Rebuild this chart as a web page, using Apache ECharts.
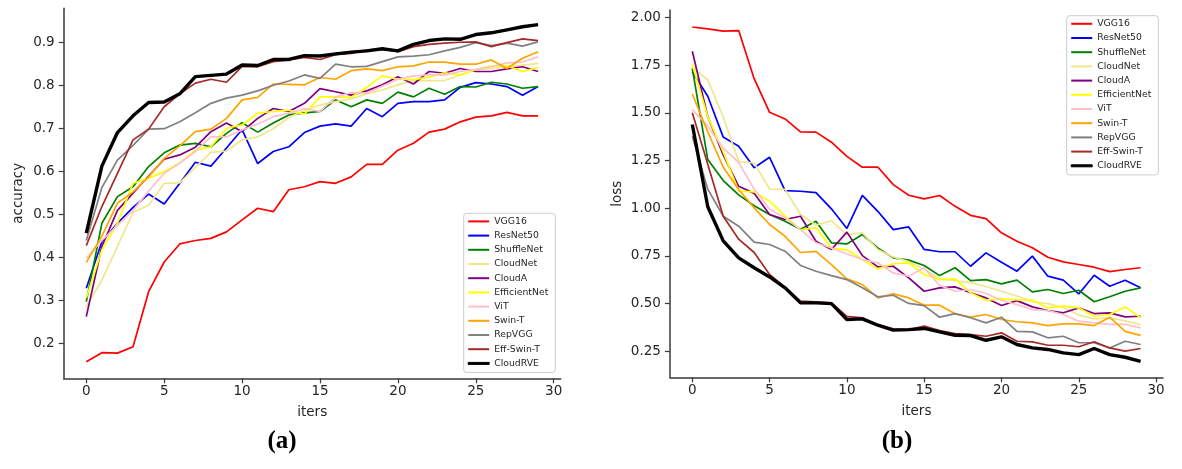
<!DOCTYPE html>
<html>
<head>
<meta charset="utf-8">
<script src="https://cdn.jsdelivr.net/npm/echarts@6/dist/echarts.min.js"></script>
<style>
html,body{margin:0;padding:0;background:#fff;}
#chart{width:1182px;height:469px;}
</style>
</head>
<body>
<div id="chart"></div>
<script>
const iters = [0,1,2,3,4,5,6,7,8,9,10,11,12,13,14,15,16,17,18,19,20,21,22,23,24,25,26,27,28,29];
const names = ['VGG16','ResNet50','ShuffleNet','CloudNet','CloudA','EfficientNet','ViT','Swin-T','RepVGG','Eff-Swin-T','CloudRVE'];
const xTicks = [0,5,10,15,20,25,30];
const accTicks = [0.2,0.3,0.4,0.5,0.6,0.7,0.8,0.9];
const lossTicks = [0.25,0.5,0.75,1.0,1.25,1.5,1.75,2.0];

const accVGG16 = [0.158,0.179,0.178,0.193,0.321,0.390,0.432,0.440,0.445,0.460,0.488,0.515,0.507,0.558,0.565,0.577,0.573,0.588,0.617,0.617,0.650,0.666,0.692,0.699,0.716,0.727,0.730,0.738,0.730,0.730];
const accResNet50 = [0.329,0.437,0.480,0.517,0.548,0.525,0.573,0.622,0.613,0.655,0.698,0.619,0.647,0.658,0.691,0.706,0.711,0.706,0.747,0.728,0.759,0.763,0.763,0.767,0.796,0.807,0.804,0.798,0.778,0.798];
const accShuffleNet = [0.298,0.480,0.542,0.565,0.612,0.644,0.662,0.666,0.658,0.689,0.714,0.692,0.713,0.732,0.737,0.740,0.767,0.751,0.767,0.759,0.785,0.774,0.794,0.780,0.798,0.797,0.808,0.804,0.794,0.798];
const accCloudNet = [0.286,0.348,0.426,0.505,0.522,0.573,0.574,0.610,0.645,0.648,0.674,0.681,0.700,0.726,0.743,0.755,0.763,0.769,0.781,0.790,0.802,0.812,0.812,0.812,0.825,0.837,0.840,0.844,0.848,0.852];
const accCloudA = [0.263,0.426,0.510,0.550,0.590,0.629,0.639,0.657,0.693,0.713,0.693,0.724,0.747,0.740,0.759,0.793,0.786,0.778,0.788,0.802,0.821,0.804,0.833,0.829,0.840,0.833,0.833,0.839,0.844,0.833];
const accEfficientNet = [0.306,0.418,0.480,0.573,0.585,0.600,0.620,0.650,0.658,0.701,0.709,0.736,0.740,0.743,0.734,0.774,0.774,0.773,0.796,0.823,0.815,0.814,0.820,0.830,0.825,0.837,0.846,0.846,0.833,0.842];
const accViT = [0.399,0.440,0.475,0.510,0.555,0.596,0.620,0.647,0.681,0.681,0.697,0.711,0.728,0.736,0.747,0.740,0.774,0.784,0.783,0.799,0.815,0.823,0.825,0.825,0.833,0.838,0.844,0.853,0.855,0.867];
const accSwinT = [0.389,0.450,0.527,0.553,0.588,0.631,0.660,0.693,0.699,0.724,0.767,0.773,0.804,0.803,0.802,0.819,0.815,0.835,0.839,0.835,0.844,0.846,0.855,0.855,0.850,0.850,0.860,0.840,0.864,0.879];
const accRepVGG = [0.440,0.563,0.627,0.661,0.699,0.700,0.716,0.737,0.759,0.771,0.778,0.788,0.801,0.811,0.825,0.817,0.850,0.844,0.845,0.856,0.867,0.869,0.872,0.881,0.889,0.900,0.893,0.899,0.892,0.902];
const accEffSwinT = [0.428,0.519,0.596,0.674,0.699,0.751,0.781,0.806,0.815,0.808,0.845,0.844,0.856,0.860,0.866,0.861,0.872,0.875,0.883,0.885,0.879,0.891,0.896,0.899,0.901,0.902,0.891,0.900,0.909,0.905];
const accCloudRVE = [0.457,0.613,0.691,0.730,0.761,0.762,0.781,0.821,0.824,0.827,0.848,0.847,0.861,0.861,0.870,0.869,0.874,0.878,0.881,0.886,0.881,0.896,0.905,0.909,0.908,0.919,0.923,0.930,0.937,0.942];

const lossVGG16 = [1.950,1.940,1.928,1.931,1.679,1.503,1.468,1.400,1.399,1.346,1.272,1.215,1.216,1.124,1.068,1.049,1.067,1.010,0.963,0.946,0.871,0.827,0.793,0.743,0.719,0.705,0.691,0.668,0.679,0.688];
const lossResNet50 = [1.715,1.587,1.373,1.325,1.212,1.267,1.092,1.089,1.082,0.997,0.894,1.067,0.984,0.888,0.902,0.784,0.772,0.772,0.696,0.766,0.717,0.670,0.749,0.644,0.623,0.551,0.649,0.591,0.623,0.583];
const lossShuffleNet = [1.733,1.255,1.145,1.070,1.013,0.967,0.932,0.890,0.932,0.819,0.813,0.862,0.792,0.740,0.728,0.700,0.647,0.688,0.621,0.626,0.604,0.623,0.562,0.574,0.553,0.570,0.510,0.536,0.565,0.583];
const lossCloudNet = [1.740,1.672,1.478,1.245,1.237,1.101,1.099,0.967,0.912,0.934,0.862,0.871,0.784,0.745,0.720,0.680,0.630,0.620,0.610,0.590,0.565,0.540,0.510,0.500,0.480,0.440,0.420,0.425,0.410,0.390];
const lossCloudA = [1.823,1.480,1.280,1.115,1.078,0.967,0.941,0.958,0.827,0.784,0.875,0.752,0.693,0.696,0.635,0.565,0.583,0.588,0.557,0.530,0.490,0.516,0.483,0.464,0.452,0.478,0.448,0.452,0.431,0.434];
const lossEfficientNet = [1.753,1.480,1.295,1.090,1.086,1.037,0.960,0.887,0.898,0.790,0.782,0.731,0.682,0.709,0.714,0.653,0.626,0.630,0.557,0.518,0.525,0.520,0.518,0.478,0.487,0.478,0.434,0.443,0.483,0.426];
const lossViT = [1.517,1.430,1.315,1.240,1.100,0.995,0.950,0.888,0.819,0.792,0.760,0.731,0.714,0.661,0.644,0.688,0.595,0.565,0.574,0.553,0.518,0.495,0.469,0.464,0.443,0.408,0.400,0.391,0.391,0.373];
const lossSwinT = [1.599,1.400,1.215,1.098,1.002,0.915,0.853,0.768,0.774,0.704,0.630,0.600,0.530,0.551,0.530,0.492,0.492,0.447,0.429,0.443,0.417,0.405,0.399,0.385,0.394,0.394,0.385,0.429,0.355,0.334];
const lossRepVGG = [1.377,1.100,0.958,0.906,0.822,0.810,0.775,0.700,0.670,0.647,0.626,0.583,0.536,0.544,0.501,0.490,0.429,0.448,0.426,0.399,0.429,0.355,0.352,0.321,0.329,0.295,0.295,0.268,0.303,0.286];
const lossEffSwinT = [1.500,1.230,0.958,0.838,0.768,0.653,0.585,0.513,0.510,0.504,0.433,0.426,0.391,0.368,0.364,0.382,0.359,0.343,0.338,0.329,0.347,0.303,0.300,0.282,0.282,0.274,0.300,0.268,0.251,0.265];
const lossCloudRVE = [1.439,1.008,0.829,0.740,0.688,0.640,0.583,0.504,0.504,0.500,0.417,0.420,0.387,0.361,0.364,0.370,0.352,0.334,0.333,0.308,0.326,0.286,0.268,0.260,0.242,0.233,0.265,0.233,0.219,0.198];

const accData = [accVGG16,accResNet50,accShuffleNet,accCloudNet,accCloudA,accEfficientNet,accViT,accSwinT,accRepVGG,accEffSwinT,accCloudRVE];
const lossData = [lossVGG16,lossResNet50,lossShuffleNet,lossCloudNet,lossCloudA,lossEfficientNet,lossViT,lossSwinT,lossRepVGG,lossEffSwinT,lossCloudRVE];
const colors = ['#ff0000','#0000ff','#008000','#f0e68c','#800080','#ffff00','#ffc0cb','#ffa500','#808080','#a52a2a','#000000'];
const widths = [1.7,1.7,1.7,1.7,1.7,1.7,1.7,1.7,1.7,1.7,3.4];

const FONT = 'DejaVu Sans';
const axisColor = '#3a3a3a';
const textColor = '#262626';

function xAxisCfg(gridIndex){
  return {
    type:'value', gridIndex, min:-1.45, max:30.45,
    name:'iters', nameLocation:'middle', nameGap:27,
    nameTextStyle:{fontFamily:FONT,fontSize:13.5,color:textColor},
    axisLine:{show:true,onZero:false,lineStyle:{color:axisColor,width:1.5}},
    axisTick:{show:true,length:5,inside:false,customValues:xTicks,lineStyle:{color:axisColor,width:1.2}},
    axisLabel:{customValues:xTicks,margin:6,fontFamily:FONT,fontSize:13.5,color:textColor},
    splitLine:{show:false}
  };
}
function yAxisCfg(gridIndex,min,max,ticks,digits,name,nameGap){
  return {
    type:'value', gridIndex, min, max,
    name, nameLocation:'middle', nameGap,
    nameTextStyle:{fontFamily:FONT,fontSize:13.5,color:textColor},
    axisLine:{show:true,onZero:false,lineStyle:{color:axisColor,width:1.5}},
    axisTick:{show:true,length:5,customValues:ticks,lineStyle:{color:axisColor,width:1.2}},
    axisLabel:{customValues:ticks,margin:9,fontFamily:FONT,fontSize:13.5,color:textColor,
      formatter:(v)=>Number(v).toFixed(digits)},
    splitLine:{show:false}
  };
}

const series = [];
[accData,lossData].forEach((set,gi)=>{
  set.forEach((vals,k)=>{
    series.push({
      type:'line', name:names[k], xAxisIndex:gi, yAxisIndex:gi,
      data: iters.map((it,j)=>[it, vals[j]]),
      symbol:'none', showSymbol:false, smooth:false,
      color:colors[k],
      lineStyle:{color:colors[k],width:widths[k]},
      z: 2+k
    });
  });
});

function legendCfg(left,top){
  return {
    orient:'vertical', left, top,
    data: names.map((n,k)=>({name:n, icon:'rect',
      itemStyle: k===10 ? {color:'#000',borderColor:'#000',borderWidth:1} : {borderWidth:0}})),
    itemWidth:21, itemHeight:2, itemGap:0,
    padding:[1,7,2,4],
    backgroundColor:'#fff', borderColor:'#cccccc', borderWidth:1, borderRadius:3,
    textStyle:{fontFamily:FONT,fontSize:9.3,color:textColor,lineHeight:14.2},
    selectedMode:false
  };
}

const option = {
  animation:false,
  backgroundColor:'#ffffff',
  grid:[
    {left:63.7, top:8.3, width:497, height:370},
    {left:669.9, top:10, width:493.1, height:367.3}
  ],
  xAxis:[xAxisCfg(0), xAxisCfg(1)],
  yAxis:[
    yAxisCfg(0,0.1195,0.98,accTicks,1,'accuracy',38),
    yAxisCfg(1,0.114,2.039,lossTicks,2,'loss',45)
  ],
  legend:[legendCfg(463.7,213.3), legendCfg(1066.7,15.7)],
  series,
  graphic:[
    {type:'text', x:282, y:442, style:{text:'(a)', font:'bold 25px "Liberation Serif"', fill:'#000', align:'center', verticalAlign:'middle'}},
    {type:'text', x:897, y:442, style:{text:'(b)', font:'bold 25px "Liberation Serif"', fill:'#000', align:'center', verticalAlign:'middle'}}
  ]
};

const chart = echarts.init(document.getElementById('chart'), null, {renderer:'canvas'});
chart.setOption(option);
</script>
</body>
</html>
